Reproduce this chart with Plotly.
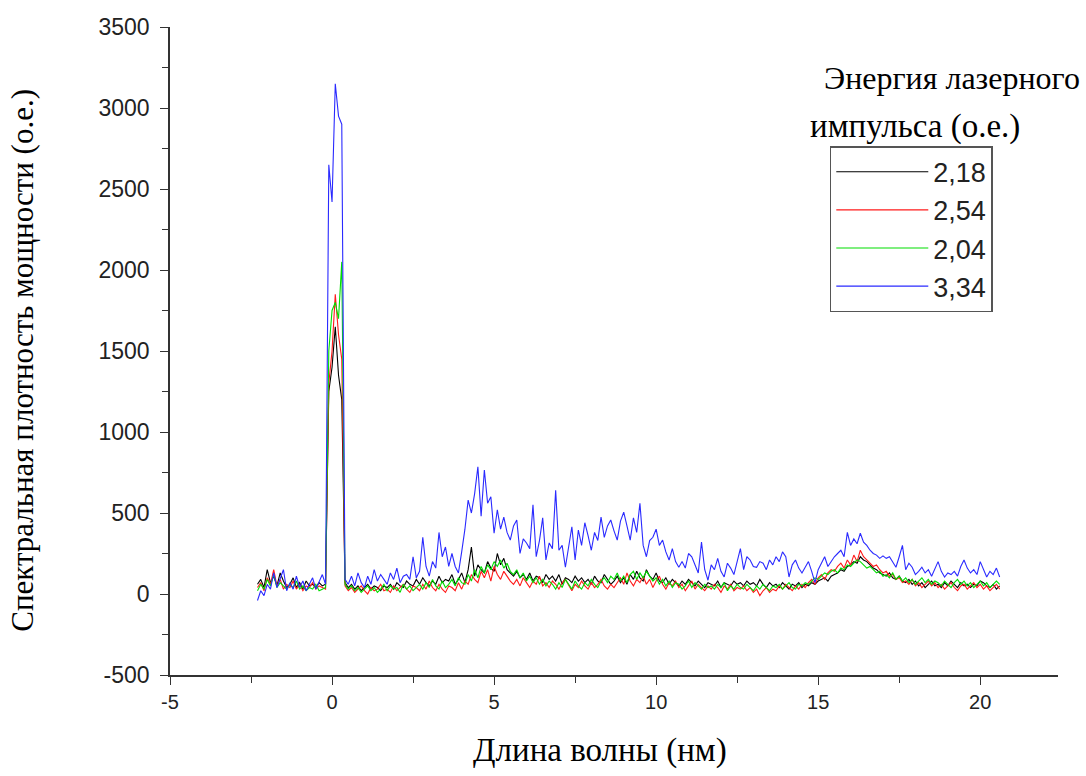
import numpy as np
import plotly.graph_objects as go

# Wavelength grid: -2.3 ... 20.6 nm, step 0.1 (230 samples)
x_start = -2.3
x_step = 0.1

series_names = ["2,18", "2,54", "2,04", "3,34"]
series_colors = ["#000000", "#ff1a1a", "#00dd00", "#2a2aff"]

x_tick_vals = [-5, 0, 5, 10, 15, 20]
x_tick_text = ["-5", "0", "5", "10", "15", "20"]
y_tick_vals = [-500, 0, 500, 1000, 1500, 2000, 2500, 3000, 3500]
y_tick_text = ["-500", "0", "500", "1000", "1500", "2000", "2500", "3000", "3500"]

black_218 = [
    60, 90, 40, 150, 70, 110, 50, 130, 80, 40,
    60, 100, 40, 70, 30, 80, 50, 60, 40, 70,
    50, 60, 1250, 1400, 1650, 1350, 1200, 70, 40, 60,
    30, 50, 20, 40, 60, 30, 50, 40, 20, 50,
    40, 60, 30, 70, 50, 40, 80, 60, 50, 90,
    60, 100, 70, 50, 80, 60, 110, 70, 90, 80,
    120, 60, 90, 130, 70, 150, 290, 110, 180, 150,
    130, 200, 160, 140, 250, 180, 220, 150, 130, 110,
    140, 100, 120, 90, 130, 80, 110, 100, 70, 120,
    90, 110, 80, 120, 60, 100, 90, 70, 110, 80,
    100, 70, 90, 60, 110, 80, 70, 120, 90, 60,
    80, 110, 70, 100, 60, 120, 90, 140, 100, 80,
    150, 110, 90, 130, 80, 70, 100, 60, 90, 70,
    50, 80, 60, 90, 70, 50, 80, 60, 40, 70,
    60, 50, 80, 40, 70, 60, 50, 80, 60, 70,
    50, 80, 60, 70, 50, 90, 60, 40, 70, 50,
    60, 40, 70, 50, 30, 60, 50, 70, 40, 60,
    50, 70, 60, 80, 90, 100, 80, 110, 120, 130,
    150, 140, 170, 180, 200, 190, 230, 210, 200, 180,
    160, 150, 130, 120, 110, 130, 100, 90, 110, 80,
    70, 90, 60, 80, 50, 70, 40, 60, 80, 50,
    60, 40, 70, 50, 80, 60, 40, 70, 50, 60,
    40, 60, 50, 80, 70, 50, 40, 60, 30, 50,
]

red_254 = [
    40, 70, 20, 100, 60, 150, 50, 90, 30, 60,
    40, 80, 30, 60, 20, 50, 40, 70, 30, 50,
    40, 30, 1300, 1500, 1850, 1600, 1450, 50, 20, 40,
    10, 30, 50, 20, 0, 40, 20, 30, 60, 20,
    30, 10, 50, 20, 40, 60, 30, 10, 50, 40,
    20, 60, 30, 80, 40, 20, 60, 30, 10, 50,
    40, 20, 70, 30, 80, 60, 120, 90, 70, 140,
    100, 150, 80, 170, 120, 90, 140, 110, 80, 60,
    90, 50, 100, 70, 40, 80, 60, 110, 50, 70,
    40, 80, 60, 30, 70, 90, 50, 20, 60, 40,
    80, 50, 30, 70, 40, 60, 90, 50, 30, 60,
    40, 70, 100, 60, 130, 80, 50, 90, 70, 110,
    60, 90, 40, 80, 110, 60, 30, 70, 50, 80,
    40, 60, 20, 50, 80, 30, 60, 40, 20, 50,
    30, 60, 40, 10, 50, 30, 60, 20, 40, 30,
    50, 20, 40, 10, 30, -10, 20, 40, 10, 30,
    20, 50, 30, 60, 40, 20, 50, 30, 60, 40,
    70, 90, 60, 100, 120, 90, 130, 150, 140, 170,
    190, 160, 210, 180, 240, 200, 270, 230, 210, 190,
    170, 180, 150, 130, 140, 110, 120, 90, 100, 70,
    80, 60, 90, 50, 70, 40, 60, 80, 50, 70,
    40, 60, 30, 50, 70, 40, 20, 50, 60, 30,
    50, 70, 40, 60, 30, 50, 20, 40, 60, 30,
]

green_204 = [
    20, 60, 30, 90, 50, 120, 40, 70, 50, 30,
    60, 40, 80, 30, 50, 20, 40, 30, 60, 20,
    30, 40, 1500, 1750, 1800, 1700, 2050, 60, 30, 50,
    20, 40, 10, 30, 50, 20, 40, 10, 30, 60,
    20, 50, 30, 40, 10, 60, 30, 50, 20, 40,
    60, 30, 70, 40, 90, 50, 30, 80, 40, 60,
    90, 50, 100, 70, 60, 120, 80, 150, 100, 170,
    130, 180, 150, 200, 170, 210, 160, 190, 140, 120,
    150, 100, 130, 80, 110, 70, 100, 60, 90, 50,
    80, 60, 30, 70, 40, 90, 60, 30, 80, 50,
    30, 70, 50, 90, 60, 40, 80, 100, 70, 110,
    90, 130, 80, 110, 70, 120, 140, 90, 130, 100,
    140, 110, 80, 100, 60, 90, 50, 80, 40, 70,
    60, 30, 50, 80, 40, 70, 50, 30, 60, 40,
    50, 30, 60, 40, 70, 20, 50, 30, 60, 40,
    30, 60, 40, 20, 50, 30, 60, 40, 20, 50,
    40, 60, 30, 50, 70, 40, 30, 60, 50, 70,
    60, 80, 100, 90, 110, 130, 120, 140, 150, 130,
    160, 150, 180, 170, 190, 210, 200, 180, 160, 170,
    150, 130, 140, 110, 120, 100, 130, 90, 110, 80,
    100, 70, 90, 60, 80, 100, 70, 90, 60, 80,
    70, 50, 80, 60, 40, 70, 90, 60, 80, 50,
    70, 40, 60, 80, 50, 70, 40, 60, 80, 60,
]

blue_334 = [
    -40, 20, -10, 60, 30, 130, 40, 90, 150, 20,
    70, 30, 110, 40, 80, 20, 60, 100, 30, 70,
    120, 60, 2650, 2420, 3150, 2950, 2900, 90, 60, 110,
    50, 130, 70, 40, 110, 60, 150, 80, 120, 90,
    60, 130, 90, 160, 70, 110, 120, 90, 230, 100,
    140, 350, 170, 110, 200, 160, 380, 230, 290, 170,
    250, 170, 130, 260, 400, 580, 500, 620, 785, 480,
    765, 560, 600, 375, 520, 400, 475, 380, 333, 420,
    457, 250, 340, 315, 280, 550, 230, 330, 470, 210,
    315, 280, 640, 270, 300, 165, 300, 415, 210, 395,
    300, 440, 360, 270, 380, 330, 475, 350, 420, 457,
    390, 333, 450, 505, 420, 333, 470, 380, 560, 300,
    230, 330, 350, 400, 300, 333, 260, 210, 280, 200,
    165, 200, 160, 250, 230, 180, 130, 320, 150, 85,
    180, 150, 220, 140, 105, 190, 160, 120, 200, 280,
    150, 230, 210, 170, 165, 200, 190, 150, 210, 180,
    230, 200, 260, 230, 105, 180, 210, 160, 130, 170,
    200, 140, 70, 150, 190, 230, 170, 200, 230, 250,
    270, 230, 380, 300, 340, 310, 375, 320, 300, 270,
    250, 240, 220, 235, 220, 230, 200, 165, 230, 300,
    150, 190, 165, 120, 140, 165, 130, 150, 110, 160,
    200, 140, 105, 130, 120, 140, 110, 170, 210, 160,
    130, 150, 120, 200, 150, 105, 140, 120, 160, 105,
]

series_values = [black_218, red_254, green_204, blue_334]

n = len(blue_334)
for s in series_values:
    assert len(s) == n, len(s)
wavelength = np.round(x_start + x_step * np.arange(n), 2)

fig = go.Figure()
for name, color, vals in zip(series_names, series_colors, series_values):
    fig.add_trace(go.Scatter(
        x=wavelength, y=vals, mode="lines", name=name,
        line=dict(color=color, width=1.1),
        legendgroup=name,
    ))

sans = "Liberation Sans, Arial, sans-serif"
serif = "Liberation Serif, Times New Roman, serif"

fig.update_layout(
    width=1086, height=776,
    margin=dict(l=170, r=28, t=27, b=101),
    paper_bgcolor="white", plot_bgcolor="white",
    showlegend=True,
    legend=dict(
        x=0.743, y=0.816, xanchor="left", yanchor="top",
        bordercolor="#555555", borderwidth=1.5,
        font=dict(family=sans, size=27, color="#222222"),
        itemwidth=92, tracegroupgap=0,
        bgcolor="white",
    ),
    xaxis=dict(
        range=[-5, 22.4],
        tickmode="array", tickvals=x_tick_vals, ticktext=x_tick_text,
        showgrid=False, zeroline=False,
        showline=True, linecolor="#333333", linewidth=1.5,
        ticks="outside", ticklen=8, tickwidth=1.2, tickcolor="#333333",
        minor=dict(dtick=2.5, tick0=0, ticks="outside", ticklen=6, tickwidth=1.2, tickcolor="#333333"),
        tickfont=dict(family=sans, size=20, color="#222222"),
    ),
    yaxis=dict(
        range=[-500, 3500],
        tickmode="array", tickvals=y_tick_vals, ticktext=y_tick_text,
        showgrid=False, zeroline=False,
        showline=True, linecolor="#333333", linewidth=1.5,
        ticks="outside", ticklen=8, tickwidth=1.2, tickcolor="#333333",
        minor=dict(dtick=250, tick0=0, ticks="outside", ticklen=6, tickwidth=1.2, tickcolor="#333333"),
        tickfont=dict(family=sans, size=23, color="#222222"), ticklabelstandoff=6,
    ),
    annotations=[
        dict(text="Длина волны (нм)", xref="paper", yref="paper",
             x=0.484, y=-0.116, xanchor="center", yanchor="middle",
             showarrow=False, font=dict(family=serif, size=33, color="#000")),
        dict(text="Спектральная плотность мощности (о.е.)", xref="paper", yref="paper",
             x=-0.167, y=0.486, xanchor="center", yanchor="middle", textangle=-90,
             showarrow=False, font=dict(family=serif, size=31, color="#000")),
        dict(text="Энергия лазерного", xref="paper", yref="paper",
             x=0.734, y=0.921, xanchor="left", yanchor="middle",
             showarrow=False, font=dict(family=serif, size=32, color="#000")),
        dict(text="импульса (о.е.)", xref="paper", yref="paper",
             x=0.718, y=0.847, xanchor="left", yanchor="middle",
             showarrow=False, font=dict(family=serif, size=33, color="#000")),
    ],
)

fig.write_html("out.html")
